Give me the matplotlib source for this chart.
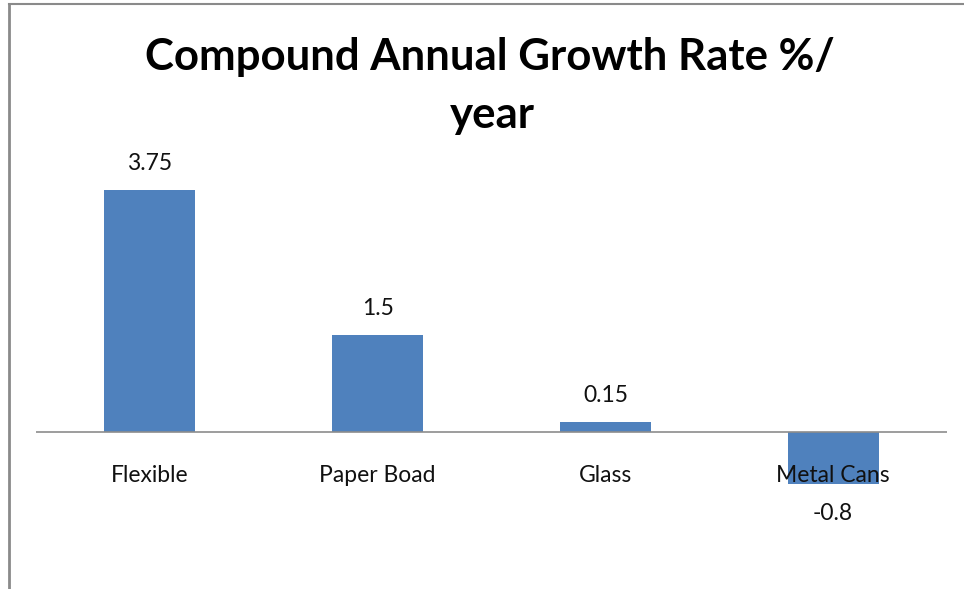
import matplotlib

matplotlib.use("Agg")
import matplotlib.pyplot as plt
from matplotlib.lines import Line2D

categories = ["Flexible", "Paper Boad", "Glass", "Metal Cans"]
values = [3.75, 1.5, 0.15, -0.8]
labels = ["3.75", "1.5", "0.15", "-0.8"]

plt.rcParams["font.family"] = ["Lato", "DejaVu Sans"]

fig = plt.figure(figsize=(9.64, 5.89), dpi=100)
fig.patch.set_facecolor("white")

ax = fig.add_axes([36 / 964, 28 / 589, 911 / 964, 419 / 589])
x = list(range(len(categories)))
ax.bar(x, values, width=0.4, color="#4F81BD", zorder=2)
ax.set_xlim(-0.5, 3.5)
ax.set_ylim(-2, 4.5)
ax.axhline(0, color="#8c8c8c", lw=1.2, zorder=3)
for s in ax.spines.values():
    s.set_visible(False)
ax.set_xticks([])
ax.set_yticks([])

for xi, v, lab, cat in zip(x, values, labels, categories):
    if v >= 0:
        ax.annotate(lab, (xi, v), xytext=(0, 27), textcoords="offset pixels",
                    ha="center", va="center", fontsize=16.5, color="#111111")
    else:
        ax.annotate(lab, (xi, v), xytext=(0, -30), textcoords="offset pixels",
                    ha="center", va="center", fontsize=16.5, color="#111111")
    ax.annotate(cat, (xi, 0), xytext=(0, -43), textcoords="offset pixels",
                ha="center", va="center", fontsize=16.5, color="#111111", zorder=5)

fig.text(490 / 964, 1 - 57 / 589, "Compound Annual Growth Rate %/",
         ha="center", va="center", fontsize=31.5, fontweight="bold")
fig.text(492 / 964, 1 - 115 / 589, "year",
         ha="center", va="center", fontsize=31.5, fontweight="bold")

# outer frame (left and top edges)
fig.add_artist(Line2D([8.5 / 964, 8.5 / 964], [0, 1 - 4 / 589], color="#8a8a8a", lw=2))
fig.add_artist(Line2D([8.5 / 964, 1], [1 - 4 / 589, 1 - 4 / 589], color="#8a8a8a", lw=1.5))

plt.savefig("out.png", dpi=100)
plt.close()
